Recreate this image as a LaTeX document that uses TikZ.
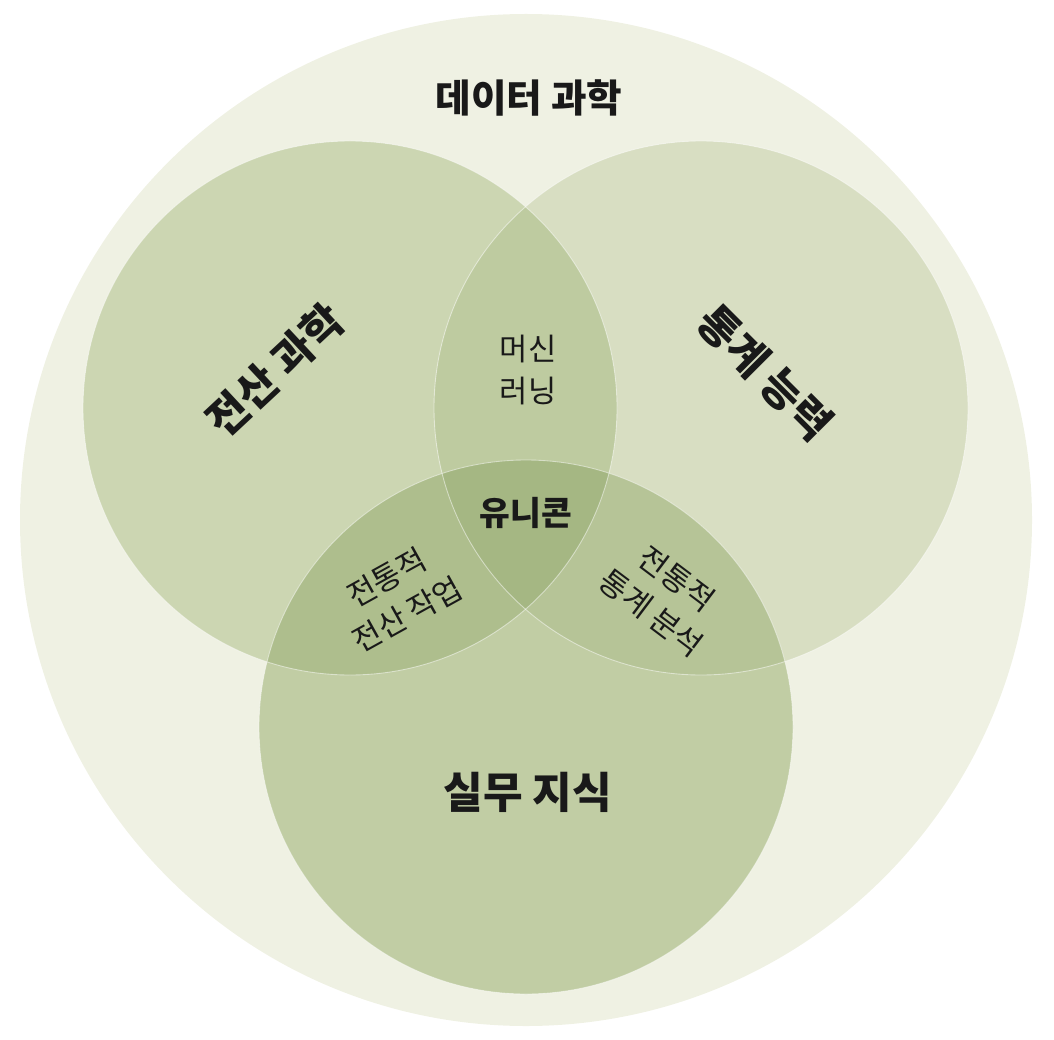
\documentclass[tikz,border=0pt]{standalone}
\usepackage{fontspec}
\setmainfont{Noto Sans CJK KR}
\usetikzlibrary{positioning}

\definecolor{outerc}{HTML}{EFF1E3}
\definecolor{csc}{HTML}{CCD6B2}
\definecolor{statc}{HTML}{D8DEC2}
\definecolor{domc}{HTML}{C1CDA4}
\definecolor{mlc}{HTML}{BECBA0}
\definecolor{csdomc}{HTML}{AEBE8D}
\definecolor{statdomc}{HTML}{B6C497}
\definecolor{unic}{HTML}{A5B783}

\begin{document}
\begin{tikzpicture}[x=0.02cm, y=-0.02cm,
    big/.style={font=\fontsize{24.5}{28}\selectfont\bfseries, text=black!90},
    small/.style={font=\fontsize{17.5}{24}\selectfont, text=black!90, align=center},
    rim/.style={draw=white, opacity=0.5, line width=0.5pt}]
    \useasboundingbox (0,0) rectangle (1054,1040);

    % Circles
    \coordinate (ds) at (526,520);
    \coordinate (cs) at (350,408);
    \coordinate (st) at (701,408);
    \coordinate (dm) at (526,727);

    \fill [outerc] (ds) circle (506);
    \fill [csc] (cs) circle (267);
    \fill [statc] (st) circle (267);
    \fill [domc] (dm) circle (267);

    % Overlaps
    \begin{scope}
      \clip (cs) circle (267);
      \fill [mlc] (st) circle (267);
      \fill [csdomc] (dm) circle (267);
    \end{scope}
    \begin{scope}
      \clip (st) circle (267);
      \fill [statdomc] (dm) circle (267);
    \end{scope}
    \begin{scope}
      \clip (cs) circle (267);
      \clip (st) circle (267);
      \fill [unic] (dm) circle (267);
    \end{scope}
    \draw [rim] (cs) circle (267);
    \draw [rim] (st) circle (267);
    \draw [rim] (dm) circle (267);

    % Labels
    \node [font=\fontsize{22}{26}\selectfont\bfseries, text=black!90] (title) at (529,98) {데이터 과학};
    \node [big, rotate=43] (cslab) at (275,370) {전산 과학};
    \node [big, rotate=-45] (stlab) at (765,373) {통계 능력};
    \node [big] (dmlab) at (528,792) {실무 지식};
    \node [small] (ml) at (528,370) {머신\\러닝};
    \node [small, font=\fontsize{19}{22}\selectfont\bfseries] (uni) at (526,513) {유니콘};
    \node [small, rotate=29] (csdom) at (397,596) {전통적\\전산 작업};
    \node [small, rotate=-37] (stdom) at (664,596) {전통적\\통계 분석};
\end{tikzpicture}
\end{document}
